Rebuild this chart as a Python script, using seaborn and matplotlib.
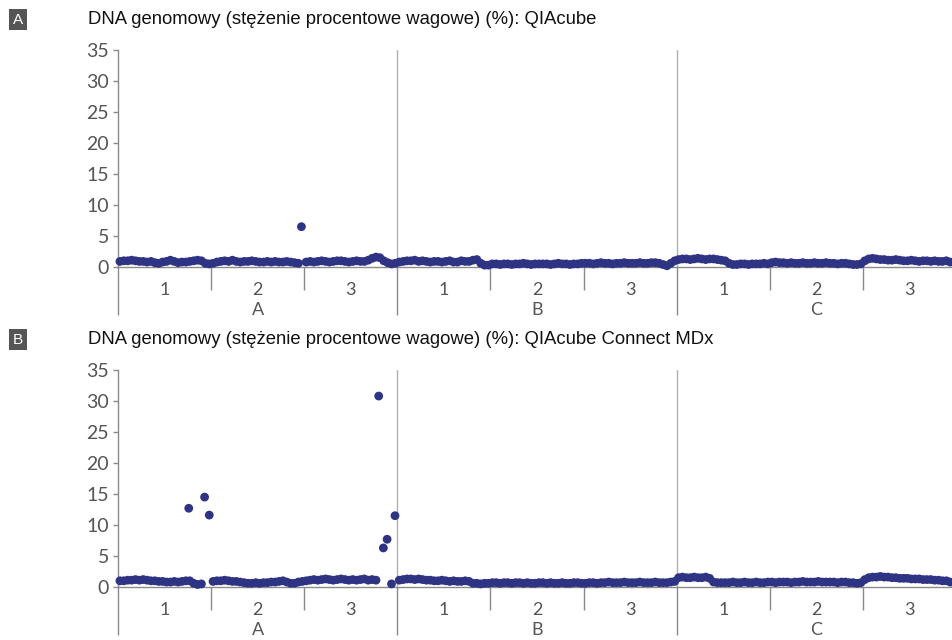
import numpy as np
import pandas as pd
import matplotlib
matplotlib.use("Agg")
import matplotlib.pyplot as plt
import seaborn as sns

nan = np.nan

# ---------------- data (values in %, 24 samples per segment) ----------------
groups = ["A", "B", "C"]
segments = ["1", "2", "3"]
yticks = [0, 5, 10, 15, 20, 25, 30, 35]

title_top = "DNA genomowy (stężenie procentowe wagowe) (%): QIAcube"
title_bottom = "DNA genomowy (stężenie procentowe wagowe) (%): QIAcube Connect MDx"

# Panel A: QIAcube
qia_A = [0.9, 1.0, 1.0, 1.1, 1.0, 0.9, 0.9, 0.8, 0.9, 0.7, 0.6, 0.8, 0.9, 1.1, 0.9, 0.7, 0.8, 0.8, 0.9, 1.0, 1.1, 1.0, 0.6, 0.5,
         0.6, 0.8, 0.9, 1.0, 0.9, 1.1, 0.9, 0.8, 0.9, 0.9, 1.0, 0.9, 0.8, 0.8, 0.9, 0.8, 0.9, 0.8, 0.8, 0.9, 0.8, 0.7, 0.6, nan,
         0.8, 0.9, 0.8, 0.9, 1.0, 0.9, 0.8, 0.9, 1.0, 1.0, 0.9, 0.8, 0.9, 1.0, 0.9, 0.9, 1.1, 1.4, 1.6, 1.5, 1.0, 0.7, 0.5, 0.6]
qia_B = [0.8, 0.9, 1.0, 1.0, 1.1, 0.9, 1.0, 0.9, 0.8, 0.9, 0.9, 0.8, 0.9, 1.0, 0.8, 0.8, 1.0, 0.9, 0.9, 1.1, 1.2, 0.6, 0.3, 0.3,
         0.5, 0.5, 0.4, 0.5, 0.5, 0.4, 0.5, 0.5, 0.6, 0.5, 0.4, 0.5, 0.5, 0.5, 0.5, 0.4, 0.5, 0.6, 0.5, 0.5, 0.4, 0.5, 0.5, 0.6,
         0.6, 0.6, 0.5, 0.6, 0.7, 0.6, 0.6, 0.5, 0.6, 0.6, 0.7, 0.6, 0.6, 0.6, 0.7, 0.6, 0.6, 0.7, 0.7, 0.6, 0.4, 0.2, 0.6, 1.0]
qia_C = [1.2, 1.3, 1.3, 1.2, 1.3, 1.4, 1.3, 1.2, 1.3, 1.3, 1.2, 1.1, 1.0, 0.6, 0.4, 0.4, 0.5, 0.5, 0.4, 0.5, 0.5, 0.5, 0.6, 0.5,
         0.7, 0.8, 0.7, 0.7, 0.6, 0.7, 0.6, 0.6, 0.7, 0.6, 0.6, 0.7, 0.6, 0.6, 0.7, 0.6, 0.6, 0.5, 0.6, 0.6, 0.5, 0.4, 0.4, 0.5,
         1.0, 1.3, 1.4, 1.3, 1.2, 1.2, 1.1, 1.1, 1.2, 1.1, 1.0, 1.0, 1.1, 1.0, 0.9, 1.0, 1.0, 0.9, 1.0, 0.9, 0.9, 1.0, 0.8, 0.8]
qia_out_pos = [1.97]
qia_out_val = [6.5]

# Panel B: QIAcube Connect MDx
mdx_A = [1.0, 1.0, 1.1, 1.1, 1.2, 1.1, 1.2, 1.1, 1.0, 1.0, 0.9, 0.9, 0.8, 0.8, 0.9, 0.8, 0.9, 1.0, 1.0, 0.6, 0.4, 0.5, nan, nan,
         0.9, 1.0, 1.0, 1.1, 1.0, 0.9, 0.9, 0.8, 0.7, 0.6, 0.6, 0.7, 0.6, 0.7, 0.7, 0.8, 0.8, 0.9, 1.0, 0.8, 0.6, 0.6, 0.8, 0.9,
         1.0, 1.1, 1.2, 1.1, 1.2, 1.3, 1.2, 1.1, 1.2, 1.3, 1.2, 1.1, 1.2, 1.1, 1.2, 1.3, 1.1, 1.2, 1.1, nan, nan, nan, 0.5, nan]
mdx_B = [1.1, 1.2, 1.3, 1.3, 1.2, 1.3, 1.2, 1.1, 1.1, 1.0, 1.0, 1.1, 1.0, 0.9, 1.0, 0.9, 0.9, 1.0, 0.9, 0.6, 0.6, 0.5, 0.6, 0.6,
         0.7, 0.7, 0.6, 0.7, 0.7, 0.6, 0.7, 0.7, 0.6, 0.7, 0.6, 0.6, 0.7, 0.7, 0.6, 0.7, 0.6, 0.6, 0.7, 0.6, 0.6, 0.7, 0.7, 0.6,
         0.6, 0.7, 0.7, 0.6, 0.7, 0.7, 0.8, 0.7, 0.7, 0.7, 0.8, 0.7, 0.7, 0.7, 0.8, 0.7, 0.7, 0.7, 0.8, 0.7, 0.7, 0.7, 0.8, 0.9]
mdx_C = [1.5, 1.6, 1.5, 1.5, 1.6, 1.5, 1.5, 1.6, 1.4, 0.8, 0.7, 0.7, 0.7, 0.7, 0.8, 0.7, 0.7, 0.8, 0.7, 0.7, 0.8, 0.7, 0.7, 0.8,
         0.8, 0.7, 0.8, 0.8, 0.8, 0.7, 0.8, 0.8, 0.9, 0.8, 0.8, 0.8, 0.9, 0.8, 0.8, 0.8, 0.8, 0.7, 0.8, 0.8, 0.7, 0.7, 0.6, 0.7,
         1.2, 1.5, 1.6, 1.6, 1.7, 1.6, 1.6, 1.5, 1.5, 1.4, 1.4, 1.4, 1.3, 1.3, 1.3, 1.2, 1.2, 1.2, 1.1, 1.1, 1.0, 1.0, 0.8, 0.7]
mdx_out_pos = [0.76, 0.93, 0.98, 2.80, 2.85, 2.89, 2.975]
mdx_out_val = [12.7, 14.5, 11.6, 30.8, 6.3, 7.7, 11.5]

N_PER_SEG = 24

# ---------------- styling ----------------
sns.set_theme(style="white")
plt.rcParams["font.family"] = ["Lato", "DejaVu Sans"]

DOT = "#2e3383"
AXC = "#8a8a8a"
TXT = "#555555"


def build_frame(series_list, out_pos, out_val):
    xs, ys = [], []
    for g, vals in enumerate(series_list):
        for i, v in enumerate(vals):
            xs.append(g * 3 + (i + 0.5) / N_PER_SEG)
            ys.append(v)
    xs += list(out_pos)
    ys += list(out_val)
    return pd.DataFrame({"pos": xs, "val": ys}).dropna()


fig = plt.figure(figsize=(9.52, 6.4), dpi=100)
fig.patch.set_facecolor("white")

W, H = 952.0, 640.0
panels = [
    (50, 267, [qia_A, qia_B, qia_C], qia_out_pos, qia_out_val, title_top, 20, "A"),
    (370, 587, [mdx_A, mdx_B, mdx_C], mdx_out_pos, mdx_out_val, title_bottom, 340, "B"),
]

for top, bottom, series, opos, oval, title, ty, tag in panels:
    ax = fig.add_axes([118 / W, 1 - bottom / H, (956 - 118) / W, (bottom - top) / H])
    df = build_frame(series, opos, oval)
    sns.scatterplot(data=df, x="pos", y="val", ax=ax, color=DOT, s=40,
                    edgecolor="none", linewidth=0, clip_on=False, zorder=3)
    ax.set_xlim(0, 9)
    ax.set_ylim(0, 35)
    ax.set_xlabel("")
    ax.set_ylabel("")
    ax.set_facecolor("none")

    for sp in ["top", "right"]:
        ax.spines[sp].set_visible(False)
    for sp in ["left", "bottom"]:
        ax.spines[sp].set_color(AXC)
        ax.spines[sp].set_linewidth(1.0)

    ax.set_yticks(yticks)
    ax.set_yticklabels([str(t) for t in yticks], fontsize=14, color=TXT)
    ax.tick_params(axis="y", length=3.5, width=1, color=AXC, direction="out", pad=3, left=True)

    ax.set_xticks([0, 3, 6, 9])
    ax.set_xticks([1, 2, 4, 5, 7, 8], minor=True)
    ax.set_xticklabels([])
    ax.tick_params(axis="x", which="major", length=34.5, width=1, color=AXC, direction="out", bottom=True)
    ax.tick_params(axis="x", which="minor", length=16.5, width=1, color=AXC, direction="out", bottom=True)

    for xv in [3, 6]:
        ax.axvline(xv, color="#b0b0b0", lw=1.0, zorder=1)

    for g, gname in enumerate(groups):
        for s, sname in enumerate(segments):
            ax.annotate(sname, xy=(g * 3 + s + 0.5, 0), xycoords=("data", "axes fraction"),
                        xytext=(0, -23 * 0.72), textcoords="offset points",
                        ha="center", va="center", fontsize=13, color=TXT)
        ax.annotate(gname, xy=(g * 3 + 1.5, 0), xycoords=("data", "axes fraction"),
                    xytext=(0, -43 * 0.72), textcoords="offset points",
                    ha="center", va="center", fontsize=13, color=TXT)

    fig.text(88 / W, 1 - ty / H, title, fontsize=13.3, color="#111111",
             family=["Liberation Sans", "DejaVu Sans"], ha="left", va="center")
    fig.text(18 / W, 1 - (ty - 0.5) / H, tag, fontsize=11, color="white",
             family=["Liberation Sans", "DejaVu Sans"], ha="center", va="center",
             bbox=dict(boxstyle="square,pad=0.25", fc="#555555", ec="none"))

fig.savefig("out.png", dpi=100, facecolor="white")
